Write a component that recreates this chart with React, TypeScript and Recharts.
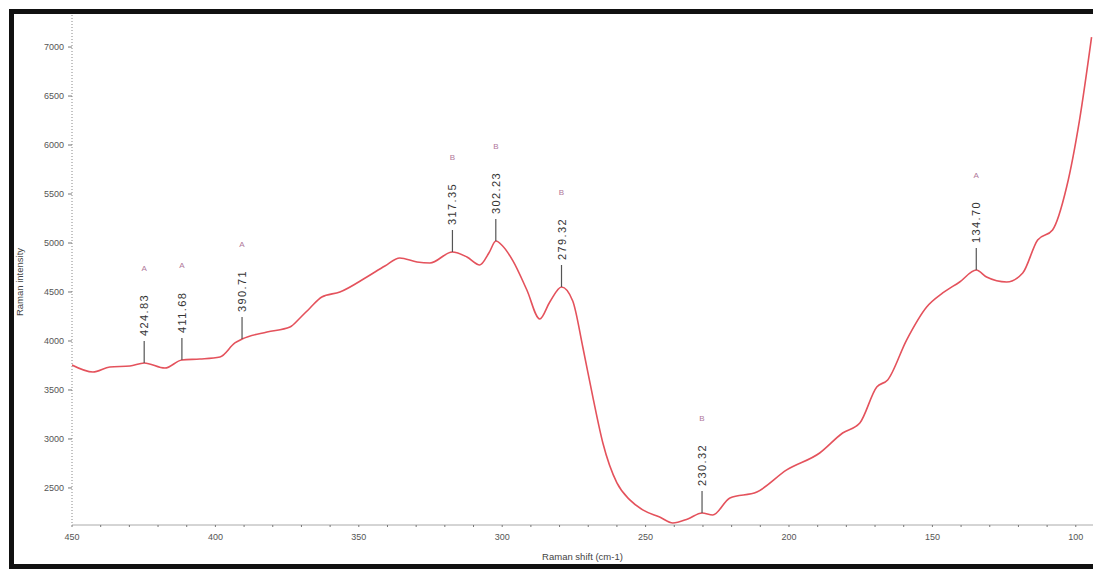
import React from 'react';
import { LineChart, Line, XAxis, YAxis, ReferenceDot } from 'recharts';

// Raman shift (cm-1) and intensity
const shifts = [
  450, 442.7, 436.8, 429.8, 424.8, 417.6, 411.7, 405.4, 398.4, 393.2, 390.7, 382.0, 374.0, 370.5,
  367.0, 362.9, 356.6, 347.2, 340.9, 335.7, 329.7, 325.2, 317.4, 312.3, 307.8, 304.6, 302.2, 300.0,
  296.3, 291.4, 286.9, 283.4, 279.3, 275.4, 271.9, 268.4, 264.9, 260.0, 255.5, 251.0, 245.1, 240.5,
  235.3, 230.3, 226.6, 220.6, 211.2, 200.8, 189.3, 181.3, 175.3, 169.4, 165.6, 159.0, 152.0, 146.4,
  140.5, 134.7, 131.1, 124.1, 118.5, 113.3, 108.1, 103.2, 98.7, 94.5,
];
const intensities = [
  3755, 3684, 3735, 3745, 3776, 3724, 3806, 3816, 3837, 3980, 4020, 4092, 4143, 4235,
  4337, 4449, 4500, 4653, 4765, 4847, 4806, 4796, 4908, 4857, 4776, 4900, 5020, 4975,
  4820, 4520, 4224, 4398, 4551, 4408, 3939, 3429, 2959, 2551, 2378, 2276, 2204, 2143,
  2184, 2245, 2224, 2398, 2459, 2684, 2857, 3061, 3163, 3531, 3602, 4010, 4347, 4490,
  4602, 4724, 4653, 4602, 4694, 5031, 5133, 5571, 6255, 7102,
];

// labelled peaks
const peakShifts = [424.83, 411.68, 390.71, 317.35, 302.23, 279.32, 230.32, 134.7];
const peakIntensities = [3776, 3806, 4020, 4908, 5020, 4551, 2245, 4724];
const peakLabels = ['424.83', '411.68', '390.71', '317.35', '302.23', '279.32', '230.32', '134.70'];
const peakGroups = ['A', 'A', 'A', 'B', 'B', 'B', 'B', 'A'];

const yTicks = [2500, 3000, 3500, 4000, 4500, 5000, 5500, 6000, 6500, 7000];
const xMajorTicks = [450, 400, 350, 300, 250, 200, 150, 100];
const xTicks = Array.from({ length: 36 }, (_, i) => 100 + i * 10);

const data = shifts.map((s, i) => ({ shift: s, intensity: intensities[i] }));

const FONT = '"Liberation Sans", Arial, sans-serif';

const XTick = ({ x, y, payload }: any) => {
  if (!xMajorTicks.includes(payload.value)) return <g />;
  return (
    <text x={x} y={y + 11} textAnchor="middle" fontSize={9} fill="#555" fontFamily={FONT}>
      {payload.value}
    </text>
  );
};

const YTick = ({ x, y, payload }: any) => (
  <text x={x} y={y + 3} textAnchor="end" fontSize={9} fill="#555" fontFamily={FONT}>
    {payload.value}
  </text>
);

const PeakMark = ({ cx, cy, text, group }: any) => (
  <g>
    <line x1={cx} x2={cx} y1={cy} y2={cy - 22} stroke="#555" strokeWidth={1.2} />
    <text
      transform={`translate(${cx + 4},${cy - 27}) rotate(-90)`}
      fontSize={11}
      letterSpacing={1.4}
      fill="#333"
      fontFamily={FONT}
    >
      {text}
    </text>
    <text x={cx} y={cy - 92} textAnchor="middle" fontSize={8} fill="#b0789a" fontFamily={FONT}>
      {group}
    </text>
  </g>
);

export default function App() {
  return (
    <div style={{ position: 'fixed', left: 0, top: 0, width: 1093, height: 569, background: '#fff', overflow: 'hidden' }}>
      <LineChart width={1093} height={569} data={data} margin={{ top: 15, right: 0, left: 0, bottom: 0 }}>
        <XAxis
          dataKey="shift"
          type="number"
          domain={[94, 450]}
          reversed
          allowDataOverflow
          ticks={xTicks}
          interval={0}
          height={44}
          tick={<XTick />}
          tickSize={2}
          tickLine={{ stroke: '#777' }}
          axisLine={{ stroke: '#aaa' }}
          label={{
            value: 'Raman shift (cm-1)',
            position: 'insideBottom',
            offset: 9,
            style: { fontSize: 9.5, fill: '#444', fontFamily: FONT },
          }}
        />
        <YAxis
          type="number"
          domain={[2122, 7327]}
          allowDataOverflow
          ticks={yTicks}
          interval={0}
          width={72}
          tick={<YTick />}
          tickSize={4}
          tickMargin={4}
          tickLine={{ stroke: '#777' }}
          axisLine={{ stroke: '#888', strokeDasharray: '1 2' }}
          label={{
            content: () => (
              <text
                transform="translate(23,282) rotate(-90)"
                textAnchor="middle"
                fontSize={9.5}
                fill="#444"
                fontFamily={FONT}
              >
                Raman intensity
              </text>
            ),
          }}
        />
        <Line
          type="monotone"
          dataKey="intensity"
          stroke="#e4525c"
          strokeWidth={1.6}
          dot={false}
          isAnimationActive={false}
        />
        {peakShifts.map((s, i) => (
          <ReferenceDot
            key={s}
            x={s}
            y={peakIntensities[i]}
            ifOverflow="visible"
            shape={(p: any) => <PeakMark {...p} text={peakLabels[i]} group={peakGroups[i]} />}
          />
        ))}
      </LineChart>
      <div style={{ position: 'absolute', left: 9, top: 9, width: 1200, height: 550, borderLeft: '5px solid #111', borderTop: '5px solid #111', borderBottom: '5px solid #111' }} />
    </div>
  );
}
